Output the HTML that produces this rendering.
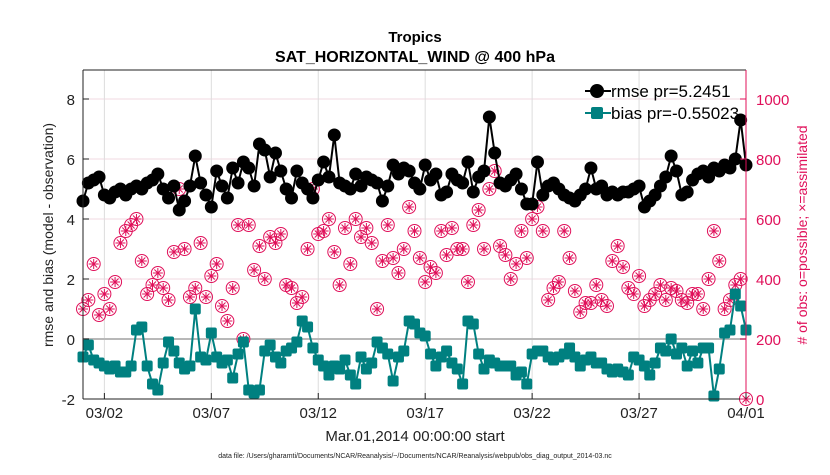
<!DOCTYPE html>
<html><head><meta charset="utf-8"><style>
body{margin:0;background:#fff;}
svg text{font-family:"Liberation Sans",sans-serif;}
</style></head><body>
<svg id="chart" width="830" height="470" viewBox="0 0 830 470" xmlns="http://www.w3.org/2000/svg">
<rect x="0" y="0" width="830" height="470" fill="#fff"/>
<text x="415" y="42" text-anchor="middle" font-size="15" font-weight="bold">Tropics</text>
<text x="415" y="62" text-anchor="middle" font-size="16" font-weight="bold">SAT_HORIZONTAL_WIND @ 400 hPa</text>
<g id="grid"></g>
<g id="series"></g>
<g id="axes"></g>
<text x="415" y="441" text-anchor="middle" font-size="15" fill="#222">Mar.01,2014 00:00:00 start</text>
<text x="415" y="458" text-anchor="middle" font-size="7" fill="#222">data file: /Users/gharamti/Documents/NCAR/Reanalysis/~/Documents/NCAR/Reanalysis/webpub/obs_diag_output_2014-03.nc</text>
<text transform="translate(53,235) rotate(-90)" text-anchor="middle" font-size="14" fill="#222">rmse and bias (model - observation)</text>
<text transform="translate(807,235) rotate(-90)" text-anchor="middle" font-size="14" fill="#e0105a"># of obs: o=possible; ×=assimilated</text>
<g id="legend">
<line x1="585" y1="91" x2="611" y2="91" stroke="#000" stroke-width="2"/>
<circle cx="597" cy="91" r="7" fill="#000"/>
<text x="611" y="97" font-size="17">rmse pr=5.2451</text>
<line x1="585" y1="113" x2="611" y2="113" stroke="#008080" stroke-width="2"/>
<rect x="591" y="107" width="12" height="12" rx="2" fill="#008080"/>
<text x="611" y="119" font-size="17">bias pr=-0.55023</text>
</g>
</svg>
<script>
const days = ["03/02","03/07","03/12","03/17","03/22","03/27","04/01"];
const dayValues = [1,6,11,16,21,26,31];
const leftTicks = [-2,0,2,4,6,8];
const rightTicks = [0,200,400,600,800,1000];
const rmse = [4.6,5.2,5.3,5.4,4.8,4.7,4.9,5.0,4.8,5.0,
5.1,5.0,5.2,5.3,5.5,5.0,4.7,5.1,4.3,
4.6,5.1,6.1,5.2,4.8,4.4,5.6,5.1,4.7,5.7,
5.2,5.9,5.7,5.1,6.5,6.3,5.4,6.2,5.6,
5.0,4.7,5.6,5.2,5.0,4.7,5.3,5.9,5.4,6.8,
5.2,5.1,5.0,5.5,5.1,5.4,5.3,5.2,4.6,
5.1,5.8,5.5,5.7,5.6,5.2,5.0,5.8,5.3,5.5,
4.8,4.9,5.5,5.3,5.2,5.9,4.9,5.4,5.6,
7.4,6.2,5.2,5.1,5.3,5.5,5.0,4.5,4.5,5.9,
4.8,5.1,5.2,5.0,4.8,4.7,4.6,4.8,5.0,
5.7,5.0,5.1,4.8,4.9,4.8,4.9,4.9,5.0,5.1,
4.4,4.6,4.8,5.1,5.4,6.1,5.6,4.8,4.9,
5.3,5.5,5.6,5.4,5.7,5.6,5.8,5.7,6.0,7.3,5.8];
const bias = [-0.6,-0.2,-0.7,-0.8,-0.9,-1.0,-0.9,-1.1,-1.1,-0.9,
0.3,0.4,-0.9,-1.5,-1.7,-0.8,-0.1,-0.4,-0.8,
-1.0,-0.9,1.0,-0.6,-0.7,0.2,-0.6,-0.8,-0.7,-1.3,
-0.5,-0.1,-1.7,-1.8,-1.7,-0.4,-0.2,-0.6,-0.8,
-0.4,-0.3,-0.1,0.6,0.4,-0.3,-0.7,-0.9,-1.2,-0.9,
-1.0,-0.7,-1.2,-1.5,-0.6,-1.0,-0.8,-0.1,-0.3,
-0.5,-1.4,-0.6,-0.4,0.6,0.5,0.2,0.1,-0.5,-0.9,
-0.6,-0.4,-0.8,-1.0,-1.5,0.6,0.5,-0.5,-1.0,
-0.7,-0.8,-0.9,-0.9,-0.9,-1.2,-1.1,-1.5,-0.5,-0.4,
-0.4,-0.6,-0.7,-0.6,-0.5,-0.3,-0.6,-0.9,-0.7,
-0.6,-0.8,-0.8,-1.0,-1.1,-1.0,-1.1,-1.2,-0.6,-0.7,
-0.9,-1.2,-0.8,-0.3,-0.4,0.0,-0.5,-0.3,-0.9,
-0.4,-0.8,-0.3,-0.3,-1.9,-1.0,0.2,0.3,1.5,1.1,0.3];
const obs = [300,330,450,280,350,300,390,520,560,580,
600,460,350,380,420,370,330,490,700,
500,340,370,520,340,410,450,310,260,370,
580,200,580,430,510,400,540,520,550,
380,370,320,340,500,700,550,560,600,490,
380,570,450,600,540,570,520,300,460,
580,470,420,500,640,560,470,390,440,420,
560,480,570,500,500,390,580,630,500,
700,760,510,480,400,450,560,470,600,640,
560,330,370,390,560,470,360,290,320,
320,380,330,310,460,510,440,370,350,410,
310,330,350,380,330,370,360,330,320,
350,350,300,400,560,460,300,330,380,400,0];

const NS="http://www.w3.org/2000/svg";
const X0=83, X1=746, YT=70, YB=399;
const xScale = t => X0 + (X1-X0)*t/31;
const yL = v => YB - (v+2)*30;
const yR = n => yL(n/100 - 2);
function mk(tag, attrs, parent){const e=document.createElementNS(NS,tag);for(const k in attrs)e.setAttribute(k,attrs[k]);parent.appendChild(e);return e;}
const grid=document.getElementById('grid'), ser=document.getElementById('series'), ax=document.getElementById('axes');

rightTicks.forEach(n=>{ if(n>0){
 const l=mk('line',{x1:X0,x2:X1,y1:yR(n),y2:yR(n),stroke:'#f0d8e2','stroke-width':1},grid);
 
 }});
dayValues.forEach(d=>{
 const l=mk('line',{x1:xScale(d),x2:xScale(d),y1:YT,y2:YB,stroke:'#ddd','stroke-width':1},grid);
 
 });
const zl=mk('line',{x1:X0,x2:X1,y1:yL(0),y2:yL(0),stroke:'#b8b8b8','stroke-width':2},grid);



obs.forEach((n,i)=>{
 const cx=xScale(i*0.25), cy=yR(n);
 const g=mk('g',{stroke:'#e0105a','stroke-width':1,fill:'none'},ser);
 
 
 mk('circle',{cx:cx,cy:cy,r:6.5},g);
 mk('path',{d:`M${cx-5} ${cy}H${cx+5}M${cx} ${cy-5}V${cy+5}M${cx-3.5} ${cy-3.5}L${cx+3.5} ${cy+3.5}M${cx-3.5} ${cy+3.5}L${cx+3.5} ${cy-3.5}`},g);
});
const rl=mk('polyline',{points:rmse.map((v,i)=>xScale(i*0.25)+','+yL(v)).join(' '),fill:'none',stroke:'#000','stroke-width':2},ser);


rmse.forEach((v,i)=>{const c=mk('circle',{cx:xScale(i*0.25),cy:yL(v),r:6.5,fill:'#000'},ser);
 
 });
const bl=mk('polyline',{points:bias.map((v,i)=>xScale(i*0.25)+','+yL(v)).join(' '),fill:'none',stroke:'#008080','stroke-width':2},ser);


bias.forEach((v,i)=>{const r=mk('rect',{x:xScale(i*0.25)-5.5,y:yL(v)-5.5,width:11,height:11,rx:2,fill:'#008080'},ser);
 
 });

mk('line',{x1:X0,x2:X0,y1:YT,y2:YB,stroke:'#222','stroke-width':1},ax);
mk('line',{x1:X0,x2:X1,y1:YT,y2:YT,stroke:'#222','stroke-width':1},ax);
mk('line',{x1:X0,x2:X1,y1:YB,y2:YB,stroke:'#222','stroke-width':1},ax);
mk('line',{x1:X1,x2:X1,y1:YT,y2:YB,stroke:'#e0105a','stroke-width':1},ax);
leftTicks.forEach(v=>{
 mk('line',{x1:X0,x2:X0+6,y1:yL(v),y2:yL(v),stroke:'#222'},ax);
 const t=mk('text',{x:X0-8,y:yL(v)+6,'text-anchor':'end','font-size':15,fill:'#222'},ax);
 t.textContent=v;
 
 });
rightTicks.forEach(n=>{
 mk('line',{x1:X1-6,x2:X1,y1:yR(n),y2:yR(n),stroke:'#e0105a'},ax);
 const t=mk('text',{x:X1+10,y:yR(n)+6,'font-size':15,fill:'#e0105a'},ax);
 t.textContent=n;
 
 });
days.forEach((d,i)=>{
 const x=xScale(dayValues[i]);
 mk('line',{x1:x,x2:x,y1:YB-6,y2:YB,stroke:'#222'},ax);
 const t=mk('text',{x:x,y:YB+19,'text-anchor':'middle','font-size':15,fill:'#222'},ax);
 t.textContent=d;
 
 });
</script>
</body></html>
